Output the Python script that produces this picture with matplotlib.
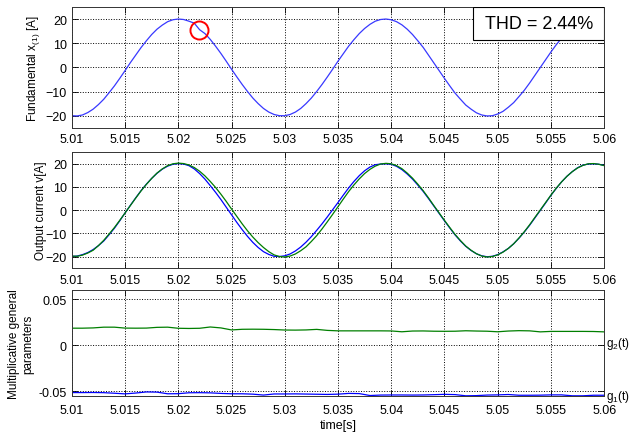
import numpy as np
import matplotlib.pyplot as plt
from matplotlib.patches import Rectangle

plt.rcParams['font.family'] = ['Liberation Sans', 'DejaVu Sans']

# sample times (s)
t_wave = np.round(np.arange(5.010, 5.06025, 0.0005), 4)
t_par = np.round(np.arange(5.010, 5.0605, 0.001), 3)

# fundamental x(1) [A]
fund = [-19.9, -20.0, -19.6, -18.6, -17.2, -15.3, -13.1, -10.4, -7.6, -4.5,
        -1.3, 2.0, 5.1, 8.2, 11.0, 13.6, 15.8, 17.5, 18.9, 19.7,
        20.0, 19.8, 19.1, 18.3, 15.6, 14.0, 11.6, 8.8, 5.8, 2.6,
        -0.7, -3.9, -7.0, -9.9, -12.6, -14.9, -16.9, -18.4, -19.4, -19.9,
        -19.9, -19.4, -18.4, -16.9, -14.9, -12.6, -9.9, -7.0, -3.9, -0.7,
        2.6, 5.7, 8.8, 11.5, 14.0, 16.1, 17.8, 19.1, 19.8, 20.0,
        19.7, 18.9, 17.6, 15.8, 13.6, 11.0, 8.3, 5.1, 1.9, -1.3,
        -4.5, -7.6, -10.6, -13.1, -15.5, -17.2, -18.7, -19.6, -20.0, -19.9,
        -19.2, -18.1, -16.4, -14.5, -12.0, -9.4, -6.4, -3.2, 0.0, 3.2,
        6.4, 9.4, 12.1, 14.5, 16.5, 18.1, 19.2, 19.9, 20.0, 19.6,
        18.7]

# output current, measured (blue) and reference (green)
out_blue = [-20.0, -19.8, -19.2, -18.3, -17.0, -15.3, -13.3, -10.6, -7.8, -4.6,
            -1.2, 2.1, 5.3, 8.4, 11.2, 13.7, 15.9, 17.7, 19.0, 19.8,
            20.1, 19.9, 19.2, 17.8, 15.8, 13.4, 10.6, 7.7, 4.6, 1.3,
            -2.0, -5.3, -8.4, -11.3, -13.9, -16.1, -17.9, -19.1, -19.9, -20.0,
            -19.7, -18.9, -17.6, -15.9, -13.8, -11.4, -8.7, -5.9, -2.9, 0.2,
            3.3, 6.5, 9.6, 12.4, 14.9, 17.0, 18.6, 19.6, 19.9, 20.0,
            19.8, 18.9, 17.5, 15.6, 13.4, 10.8, 8.1, 5.0, 1.8, -1.4,
            -4.6, -7.7, -10.7, -13.3, -15.6, -17.4, -18.8, -19.7, -20.1, -19.9,
            -19.2, -18.0, -16.5, -14.5, -12.1, -9.4, -6.5, -3.3, -0.1, 3.1,
            6.4, 9.4, 12.2, 14.6, 16.6, 18.3, 19.4, 19.9, 20.0, 19.8,
            19.3]
out_green = [-19.8, -19.9, -19.4, -18.5, -17.3, -15.3, -13.0, -10.3, -7.5, -4.4,
             -1.2, 2.0, 5.2, 8.3, 11.1, 13.7, 16.0, 17.8, 19.2, 20.0,
             20.3, 20.1, 19.5, 18.4, 16.8, 14.8, 12.4, 9.8, 6.9, 3.8,
             0.5, -2.7, -5.9, -8.9, -11.6, -14.0, -16.1, -17.9, -19.3, -20.0,
             -20.2, -19.8, -18.9, -17.5, -15.8, -13.5, -11.0, -8.1, -5.0, -1.8,
             1.5, 4.8, 8.0, 10.9, 13.5, 15.8, 17.6, 19.0, 19.9, 20.2,
             20.0, 19.2, 17.9, 16.0, 13.8, 11.2, 8.4, 5.3, 2.0, -1.2,
             -4.4, -7.5, -10.5, -13.1, -15.5, -17.3, -18.8, -19.8, -20.2, -20.0,
             -19.3, -18.1, -16.5, -14.5, -12.0, -9.3, -6.3, -3.1, 0.1, 3.3,
             6.5, 9.5, 12.2, 14.6, 16.6, 18.2, 19.3, 20.0, 20.1, 19.8,
             19.2]

# multiplicative general parameters
g2 = [0.0187, 0.0187, 0.0190, 0.0198, 0.0198, 0.0188, 0.0187, 0.0188, 0.0196, 0.0198,
      0.0186, 0.0184, 0.0186, 0.0200, 0.0190, 0.0168, 0.0175, 0.0176, 0.0175, 0.0172,
      0.0167, 0.0166, 0.0168, 0.0174, 0.0163, 0.0158, 0.0158, 0.0158, 0.0158, 0.0158,
      0.0157, 0.0148, 0.0156, 0.0157, 0.0154, 0.0153, 0.0154, 0.0159, 0.0156, 0.0154,
      0.0148, 0.0156, 0.0160, 0.0158, 0.0147, 0.0152, 0.0152, 0.0152, 0.0152, 0.0151,
      0.0147]
g1 = [-0.0513, -0.0513, -0.0512, -0.0514, -0.0520, -0.0527, -0.0518, -0.0506, -0.0508, -0.0526,
      -0.0525, -0.0515, -0.0514, -0.0516, -0.0522, -0.0526, -0.0526, -0.0530, -0.0540, -0.0528,
      -0.0528, -0.0527, -0.0529, -0.0531, -0.0533, -0.0530, -0.0522, -0.0524, -0.0545, -0.0540,
      -0.0539, -0.0539, -0.0540, -0.0539, -0.0536, -0.0532, -0.0535, -0.0548, -0.0546, -0.0540,
      -0.0538, -0.0534, -0.0542, -0.0542, -0.0541, -0.0538, -0.0538, -0.0548, -0.0548, -0.0542,
      -0.0542]

xticks = [5.01, 5.015, 5.02, 5.025, 5.03, 5.035, 5.04, 5.045, 5.05, 5.055, 5.06]
xticklabels = ['5.01', '5.015', '5.02', '5.025', '5.03', '5.035', '5.04',
               '5.045', '5.05', '5.055', '5.06']

circle_t, circle_y = 5.0219, 15.5
thd_text = 'THD = 2.44%'

fig = plt.figure(figsize=(6.3, 4.39), dpi=100)
ax1 = fig.add_axes([0.114, 0.706, 0.845, 0.276])
ax2 = fig.add_axes([0.114, 0.387, 0.845, 0.264])
ax3 = fig.add_axes([0.114, 0.0957, 0.845, 0.241])


def style(ax, pad=3.5):
    ax.set_xlim(5.01, 5.06)
    ax.set_xticks(xticks)
    ax.set_xticklabels(xticklabels)
    ax.tick_params(direction='in', top=True, right=True, length=4,
                   labelsize=9, width=0.6)
    ax.tick_params(axis='x', pad=pad)
    ax.grid(True, linestyle=':', color='black', linewidth=0.7)
    for s in ax.spines.values():
        s.set_linewidth(0.7)
        s.set_color('#333333')


ax1.plot(t_wave, fund, color='#3838ff', lw=0.9)
ax1.plot(circle_t, circle_y, 'o', mfc='none', mec='red', ms=13, mew=1.4)
ax1.set_ylim(-25, 25)
ax1.set_yticks([-20, -10, 0, 10, 20])
style(ax1)
ax1.set_ylabel(r'Fundamental x$_{\mathregular{(1)}}$ [A]', fontsize=8.5)
ax1.yaxis.set_label_coords(-0.056, 0.5)
ax1.add_patch(Rectangle((0.754, 0.727), 0.246, 0.273, transform=ax1.transAxes,
                        facecolor='white', edgecolor='black', lw=0.8, zorder=5))
ax1.text(0.877, 0.86, thd_text, transform=ax1.transAxes, ha='center',
         va='center', fontsize=13, zorder=6)

ax2.plot(t_wave, out_blue, color='blue', lw=0.9)
ax2.plot(t_wave, out_green, color='#007f00', lw=0.9)
ax2.set_ylim(-25, 25)
ax2.set_yticks([-20, -10, 0, 10, 20])
style(ax2, pad=4.5)
ax2.set_ylabel('Output current v[A]', fontsize=8.5)
ax2.yaxis.set_label_coords(-0.047, 0.5)

ax3.plot(t_par, g2, color='#007f00', lw=0.9)
ax3.plot(t_par, g1, color='blue', lw=0.9)
ax3.set_ylim(-0.055, 0.06)
ax3.set_yticks([-0.05, 0, 0.05])
ax3.set_yticklabels(['-0.05', '0', '0.05'])
style(ax3, pad=6)
ax3.set_ylabel('Multiplicative general\nparameters', fontsize=8.5)
ax3.yaxis.set_label_coords(-0.071, 0.5)
ax3.set_xlabel('time[s]', fontsize=9, labelpad=2)
ax3.text(5.0602, 0.003, r'g$_{\mathregular{2}}$(t)', fontsize=8.5, va='center',
         ha='left', clip_on=False)
ax3.text(5.0602, -0.0552, r'g$_{\mathregular{1}}$(t)', fontsize=8.5, va='center',
         ha='left', clip_on=False)

fig.savefig('out.png', dpi=100)
